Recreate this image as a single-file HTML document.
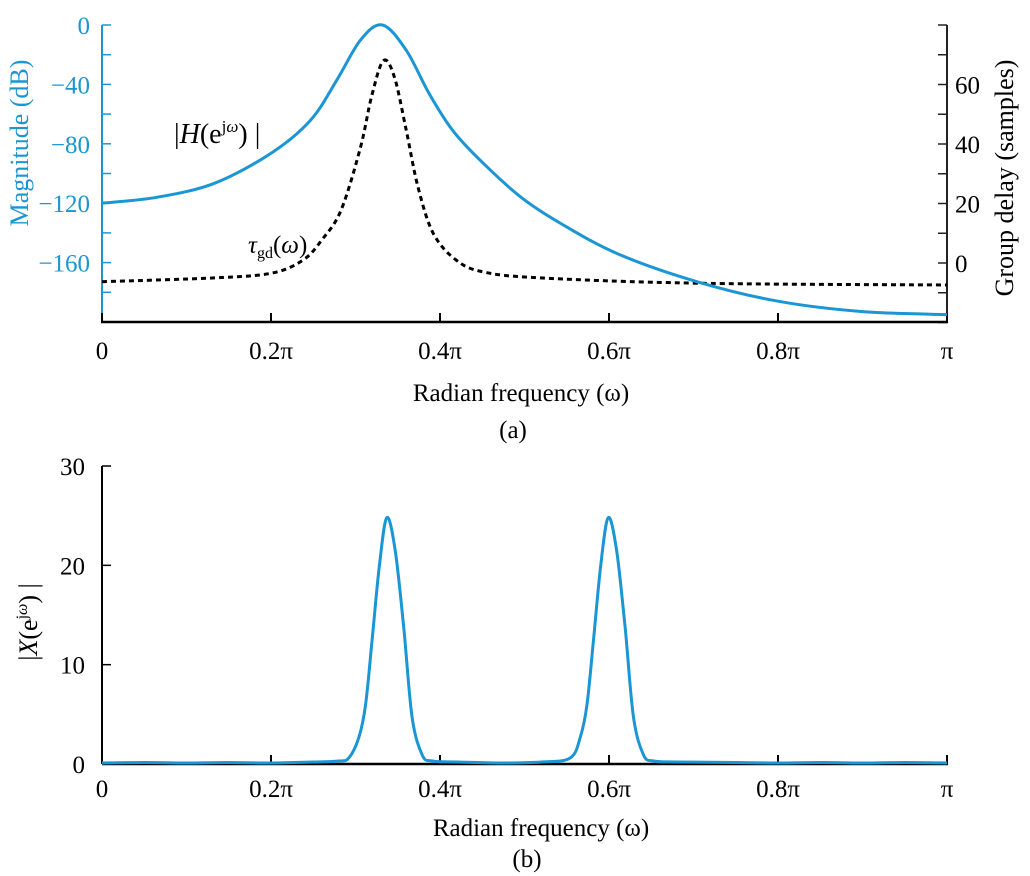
<!DOCTYPE html>
<html><head><meta charset="utf-8">
<style>
html,body{margin:0;padding:0;background:#fff;}
svg{display:block;font-family:"Liberation Serif",serif;}
</style></head>
<body>
<svg id="fig" width="1030" height="876" viewBox="0 0 1030 876">
  <g id="chartA"></g>
  <g id="chartB"></g>
  <text x="521" y="401" font-size="25" text-anchor="middle">Radian frequency (ω)</text>
  <text x="513" y="438" font-size="25" text-anchor="middle">(a)</text>
  <text x="541" y="836" font-size="25" text-anchor="middle">Radian frequency (ω)</text>
  <text x="527" y="867" font-size="25" text-anchor="middle">(b)</text>
  <text transform="translate(28,143) rotate(-90)" font-size="26" fill="#1a96d4" text-anchor="middle">Magnitude (dB)</text>
  <text transform="translate(1013,178) rotate(-90)" font-size="26" text-anchor="middle">Group delay (samples)</text>
  <text transform="translate(37,622) rotate(-90)" font-size="26" text-anchor="middle">|<tspan font-style="italic">X</tspan>(e<tspan font-size="16" dy="-10">j<tspan font-style="italic">ω</tspan></tspan><tspan dy="10">)</tspan> |</text>
  <text x="174" y="143" font-size="28">|<tspan font-style="italic">H</tspan>(e<tspan font-size="17" dy="-11">j<tspan font-style="italic">ω</tspan></tspan><tspan dy="11">)</tspan> |</text>
  <text x="248" y="253" font-size="25"><tspan font-style="italic">τ</tspan><tspan font-size="16" dy="5">gd</tspan><tspan dy="-5">(<tspan font-style="italic">ω</tspan>)</tspan></text>
</svg>
<script>
// ---- data ----
const magW   = [0,0.065,0.133,0.201,0.247,0.278,0.306,0.332,0.36,0.387,0.415,0.451,0.496,0.541,0.61,0.705,0.8,0.9,1.0];
const magDb  = [-120,-116,-106.6,-86,-64,-37,-10,0,-17,-46,-71,-93,-116,-133,-154,-173,-186,-193,-195];
const gdW    = [0,0.133,0.201,0.238,0.26,0.283,0.306,0.319,0.333,0.346,0.36,0.374,0.392,0.419,0.451,0.519,0.705,1.0];
const gdVal  = [-6.3,-5,-3.4,1,7.7,17.8,39,56,68,62.5,44.7,25.5,10,1,-3,-5,-6.8,-7.4];
const specW  = [0,0.05,0.1,0.15,0.2,0.25,0.28,0.292,0.304,0.312,0.320,0.328,0.337,0.347,0.357,0.367,0.379,0.391,0.42,0.47,0.52,0.554,0.566,0.574,0.582,0.590,0.599,0.609,0.619,0.629,0.641,0.653,0.68,0.75,0.8,0.85,0.9,0.95,1.0];
const specV  = [0.1,0.15,0.1,0.15,0.1,0.2,0.3,0.6,2.7,6,12.8,19.8,24.8,21.5,13.8,4.7,0.9,0.3,0.2,0.1,0.2,0.6,2.7,6,12.8,19.8,24.8,21.5,13.8,4.7,0.9,0.3,0.2,0.15,0.1,0.15,0.1,0.15,0.1];
const xTickLabels = ["0","0.2π","0.4π","0.6π","0.8π","π"];
const xTickVals = [0,0.2,0.4,0.6,0.8,1.0];
const magTicks = [0,-40,-80,-120,-160];
const gdTicks = [0,20,40,60];
const specTicks = [0,10,20,30];

const NS="http://www.w3.org/2000/svg";
const BLUE="#1a96d4";
function mk(tag,attrs,parent){const e=document.createElementNS(NS,tag);for(const k in attrs)e.setAttribute(k,attrs[k]);parent.appendChild(e);return e;}
const X0=102,X1=947;
const xs=w=>X0+(X1-X0)*w;
const yMag=d=>25+(0-d)*(297/200);
const yGd=v=>263-v*(238/80);
const ySp=v=>764-v*(298/30);

function smoothPath(px,py){
  let d="M"+px[0].toFixed(1)+","+py[0].toFixed(1);
  for(let i=0;i<px.length-1;i++){
    const p0=i>0?i-1:i,p3=i+2<px.length?i+2:i+1;
    const c1x=px[i]+(px[i+1]-px[p0])/6,c1y=py[i]+(py[i+1]-py[p0])/6;
    const c2x=px[i+1]-(px[p3]-px[i])/6,c2y=py[i+1]-(py[p3]-py[i])/6;
    d+=" C"+c1x.toFixed(1)+","+c1y.toFixed(1)+" "+c2x.toFixed(1)+","+c2y.toFixed(1)+" "+px[i+1].toFixed(1)+","+py[i+1].toFixed(1);
  }
  return d;
}

const gA=document.getElementById('chartA'), gB=document.getElementById('chartB');

// ---- chart a ----
let e;
e=mk('line',{x1:X0,y1:25,x2:X0,y2:322,stroke:BLUE,'stroke-width':2},gA);


for(let d=0;d>=-200;d-=20){
  e=mk('line',{x1:X0,y1:yMag(d),x2:X0+9,y2:yMag(d),stroke:BLUE,'stroke-width':1.5},gA);
  
  
}
magTicks.forEach(d=>{
  e=mk('text',{x:90,y:yMag(d)+9,'font-size':25,fill:BLUE,'text-anchor':'end'},gA);
  e.textContent=d===0?"0":"−"+Math.abs(d);
  
  
});
e=mk('line',{x1:X1,y1:25,x2:X1,y2:322,stroke:'#222','stroke-width':2},gA);


for(let v=-20;v<=80;v+=10){
  e=mk('line',{x1:X1-9,y1:yGd(v),x2:X1,y2:yGd(v),stroke:'#222','stroke-width':1.5},gA);
  
  
}
gdTicks.forEach(v=>{
  e=mk('text',{x:955,y:yGd(v)+9,'font-size':25},gA);
  e.textContent=String(v);
  
  
});
e=mk('line',{x1:X0-1,y1:322,x2:X1+1,y2:322,stroke:'#000','stroke-width':2.5},gA);


xTickVals.forEach((w,i)=>{
  e=mk('line',{x1:xs(w),y1:313,x2:xs(w),y2:322,stroke:'#000','stroke-width':2},gA);
  
  
  e=mk('text',{x:xs(w),y:359,'font-size':25,'text-anchor':'middle'},gA);
  e.textContent=xTickLabels[i];
  
  
});
e=mk('path',{d:smoothPath(gdW.map(xs),gdVal.map(yGd)),fill:'none',stroke:'#000','stroke-width':3,'stroke-dasharray':'5,4'},gA);


e=mk('path',{d:smoothPath(magW.map(xs),magDb.map(yMag)),fill:'none',stroke:BLUE,'stroke-width':3},gA);



// ---- chart b ----
e=mk('line',{x1:X0,y1:466,x2:X0,y2:764,stroke:'#000','stroke-width':2},gB);


specTicks.forEach(v=>{
  e=mk('line',{x1:X0,y1:ySp(v),x2:X0+9,y2:ySp(v),stroke:'#000','stroke-width':1.5},gB);
  
  
  e=mk('text',{x:85,y:ySp(v)+9,'font-size':25,'text-anchor':'end'},gB);
  e.textContent=String(v);
  
  
});
e=mk('line',{x1:X0,y1:764,x2:X1+1,y2:764,stroke:'#000','stroke-width':2.5},gB);


xTickVals.forEach((w,i)=>{
  e=mk('line',{x1:xs(w),y1:755,x2:xs(w),y2:764,stroke:'#000','stroke-width':2},gB);
  
  
  e=mk('text',{x:xs(w),y:797,'font-size':25,'text-anchor':'middle'},gB);
  e.textContent=xTickLabels[i];
  
  
});
e=mk('path',{d:smoothPath(specW.map(xs),specV.map(ySp)),fill:'none',stroke:BLUE,'stroke-width':3},gB);


</script>
</body></html>
